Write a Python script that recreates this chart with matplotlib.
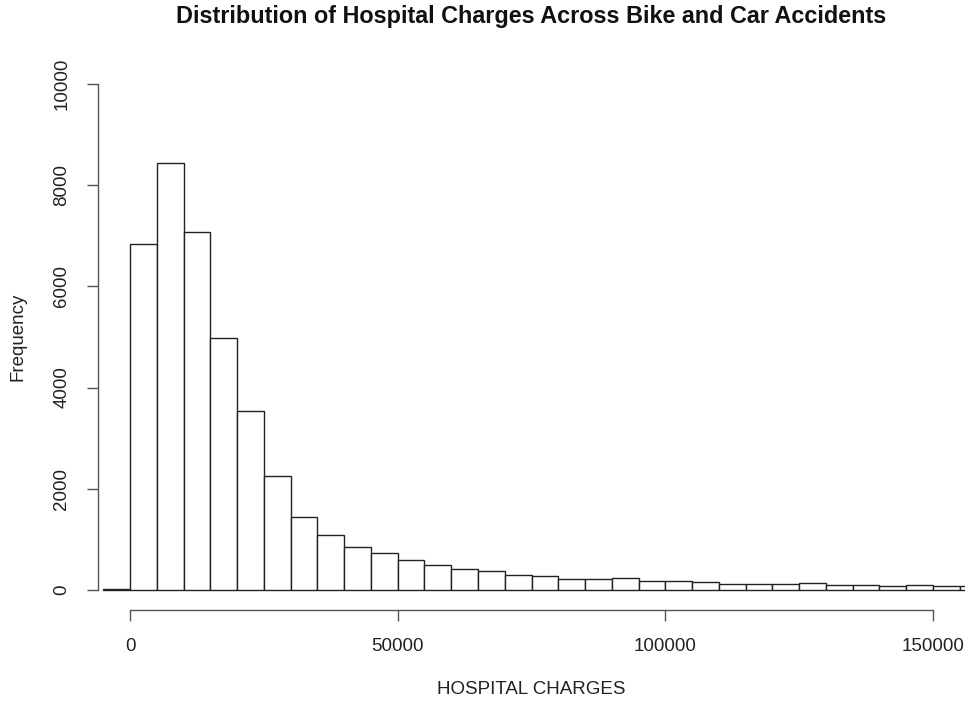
#!/usr/bin/env python3
"""
Histogram of hospital charges, bike and car accidents (R base-graphics look)
"""
import numpy as np
import matplotlib
matplotlib.use('Agg')
import matplotlib.pyplot as plt

# bin left edges (width 5000) and counts
bin_width = 5000
bin_left = np.arange(-5000, 160000, bin_width)
counts = [20, 6840, 8440, 7070, 4975, 3535, 2245, 1440, 1080, 845,
          730, 590, 490, 420, 362, 300, 272, 220, 220, 225,
          172, 166, 160, 120, 114, 108, 138, 88, 88, 68,
          86, 68, 76]
xticks = [0, 50000, 100000, 150000]
yticks = [0, 2000, 4000, 6000, 8000, 10000]

plt.rcParams['font.family'] = ['Liberation Sans', 'DejaVu Sans']

# setup figure
fig = plt.figure(figsize=(9.71, 7.07), dpi=100)
W, H = 971.0, 707.0
x0, x1, y0, y1 = 98, 965, 610, 64
ax = fig.add_axes([x0 / W, 1 - y0 / H, (x1 - x0) / W, (y0 - y1) / H])

# plot bars
ax.bar(bin_left, counts, width=bin_width, align='edge',
       facecolor='white', edgecolor='#222222', linewidth=1.0)

# axes limits: xlim (0, 150000), ylim (0, 10000) with R's 4% extension
ax.set_xlim(-6000, 156000)
ax.set_ylim(-400, 10400)

# R-style detached axes
for s in ('top', 'right'):
    ax.spines[s].set_visible(False)
ax.spines['left'].set_bounds(0, 10000)
ax.spines['bottom'].set_bounds(0, 150000)
for s in ('left', 'bottom'):
    ax.spines[s].set_color('#555555')
    ax.spines[s].set_linewidth(1.0)
ax.set_xticks(xticks)
ax.set_xticklabels([str(v) for v in xticks])
ax.set_yticks(yticks)
ax.set_yticklabels([str(v) for v in yticks], rotation=90, va='center')
ax.tick_params(length=8, width=1.0, color='#555555', labelsize=13.5,
               labelcolor='#222222', pad=12)

ax.set_xlabel('HOSPITAL CHARGES', fontsize=13.5, color='#222222')
ax.set_ylabel('Frequency', fontsize=13.5, color='#222222')
ax.xaxis.label.set_va('center')
ax.yaxis.label.set_va('center')
ax.xaxis.set_label_coords(0.5, (y0 - 689) / (y0 - y1))
ax.yaxis.set_label_coords((18 - x0) / (x1 - x0), 0.5)

# title centred over the plot region, as R does
ax.text(0.5, (y0 - 17) / (y0 - y1),
        'Distribution of Hospital Charges Across Bike and Car Accidents',
        transform=ax.transAxes, ha='center', va='center', fontsize=16.8,
        fontweight='bold', color='#111111', clip_on=False)

# finish up
fig.savefig('out.png', dpi=100)
